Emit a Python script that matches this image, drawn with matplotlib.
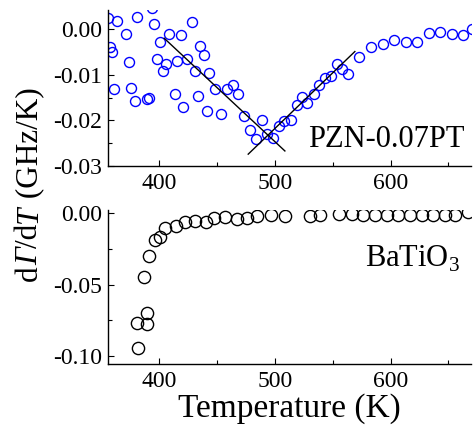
import numpy as np
import matplotlib
matplotlib.use("Agg")
import matplotlib.pyplot as plt
from matplotlib.ticker import MultipleLocator, FormatStrFormatter

# ____________________________________________________________________________________________________
# Data

pzn_T = [355.5, 357.4, 359.4, 360.8, 363.7, 371.0, 373.8, 375.5, 379.0, 380.8,
         389.0, 391.4, 393.4, 395.4, 397.9, 400.6, 403.5, 405.8, 408.5, 413.6,
         415.6, 418.7, 420.5, 423.9, 428.5, 430.6, 433.7, 435.5, 438.6, 441.5,
         443.2, 448.4, 453.6, 458.5, 463.7, 468.3, 473.0, 478.7, 483.5, 488.5,
         493.3, 498.2, 503.6, 508.2, 513.6, 518.8, 523.4, 528.0, 533.4, 538.0,
         543.2, 548.1, 553.3, 558.2, 562.8, 572.9, 583.0, 593.1, 602.9, 613.0,
         623.0, 633.1, 642.6, 652.7, 662.7, 670.5]
pzn_dG = [0.0024, -0.0040, -0.0049, -0.0132, 0.0017, -0.0011, -0.0071, -0.0128, -0.0158, 0.0027,
          -0.0153, -0.0151, 0.0046, 0.0012, -0.0066, -0.0029, -0.0091, -0.0077, -0.0010, -0.0143,
          -0.0070, -0.0013, -0.0170, -0.0066, 0.0015, -0.0091, -0.0147, -0.0037, -0.0057, -0.0180,
          -0.0096, -0.0132, -0.0185, -0.0132, -0.0123, -0.0143, -0.0190, -0.0222, -0.0240, -0.0199,
          -0.0229, -0.0238, -0.0213, -0.0202, -0.0200, -0.0166, -0.0149, -0.0161, -0.0143, -0.0122,
          -0.0107, -0.0102, -0.0077, -0.0087, -0.0099, -0.0062, -0.0038, -0.0032, -0.0023, -0.0029,
          -0.0029, -0.0009, -0.0007, -0.0010, -0.0013, 0.0000]

# linear guides on both sides of the minimum
fit_low_T = [404.3, 508.6]
fit_low_dG = [-0.0020, -0.0267]
fit_high_T = [476.9, 569.1]
fit_high_dG = [-0.0274, -0.0049]

bto_T = [381.0, 381.9, 387.0, 389.1, 389.6, 391.4, 396.3, 401.0, 405.3, 414.3,
         422.0, 430.9, 440.4, 447.7, 456.8, 467.2, 475.8, 484.2, 496.7, 508.4,
         530.2, 538.9, 555.6, 566.3, 576.3, 586.4, 596.5, 606.6, 616.7, 626.8,
         636.8, 646.9, 655.5, 666.7]
bto_dG = [-0.0765, -0.0945, -0.0450, -0.0695, -0.0777, -0.0298, -0.0189, -0.0166, -0.0105, -0.0089,
          -0.0062, -0.0060, -0.0062, -0.0037, -0.0032, -0.0042, -0.0036, -0.0022, -0.0016, -0.0020,
          -0.0023, -0.0016, -0.0006, -0.0011, -0.0015, -0.0015, -0.0015, -0.0015, -0.0015, -0.0015,
          -0.0015, -0.0015, -0.0015, 0.0005]

top_yticks = [0.00, -0.01, -0.02, -0.03]
bottom_yticks = [0.00, -0.05, -0.10]
xticks = [400, 500, 600]

# y label pieces: (text, style) -> Γ and T in italic
ylabel_parts = [('d', 'normal'), ('Γ', 'italic'), ('/d', 'normal'),
                ('T', 'italic'), (' (GHz/K)', 'normal')]

# ____________________________________________________________________________________________________
# Style

plt.rcParams['font.family'] = ['Liberation Serif', 'DejaVu Serif']
plt.rcParams['mathtext.fontset'] = 'custom'
plt.rcParams['mathtext.rm'] = 'Liberation Serif'

fig = plt.figure(figsize=(4.75, 4.25), dpi=100)
ax_top = fig.add_axes([0.2274, 0.6094, 0.7642, 0.367])
ax_bot = fig.add_axes([0.2274, 0.1435, 0.7642, 0.3624])


def style_axis(ax, ylim, yticks, yminor):
    ax.set_xlim(355.7, 669.5)
    ax.set_ylim(*ylim)
    ax.set_xticks(xticks)
    ax.xaxis.set_minor_locator(MultipleLocator(50))
    ax.set_yticks(yticks)
    ax.yaxis.set_minor_locator(MultipleLocator(yminor))
    ax.yaxis.set_major_formatter(FormatStrFormatter('%.2f'))
    for side in ['top', 'right']:
        ax.spines[side].set_visible(False)
    for side in ['left', 'bottom']:
        ax.spines[side].set_linewidth(1.0)
    ax.tick_params(which='both', direction='in', labelsize=17, pad=4, width=0.8)
    ax.tick_params(axis='x', pad=5)
    ax.tick_params(which='major', length=4)
    ax.tick_params(which='minor', length=3)


# Top panel ğŸ”µ
ax_top.plot(pzn_T, pzn_dG, 'o', ms=7.2, mfc='none', mec='#0000ff', mew=1.0)
ax_top.plot(fit_low_T, fit_low_dG, color='black', lw=1.0)
ax_top.plot(fit_high_T, fit_high_dG, color='black', lw=1.0)
style_axis(ax_top, (-0.03, 0.0042), top_yticks, 0.005)
ax_top.text(0.551, 0.122, 'PZN-0.07PT', transform=ax_top.transAxes,
            fontsize=22, ha='left', va='baseline')

# Bottom panel âš«
ax_bot.plot(bto_T, bto_dG, 'o', ms=8.8, mfc='none', mec='black', mew=1.0)
style_axis(ax_bot, (-0.1053, 0.0019), bottom_yticks, 0.025)
ax_bot.text(0.708, 0.628, 'BaTiO$_3$', transform=ax_bot.transAxes,
            fontsize=22, ha='left', va='baseline')

# Y label, built piece by piece so Γ can be italic (mathtext keeps it upright)
renderer = fig.canvas.get_renderer()
fig_w, fig_h = fig.bbox.width, fig.bbox.height
base_x = 37.0        # baseline, px from left
center_y = 425 - 184.0  # px from bottom
texts = []
for s, st in ylabel_parts:
    t = fig.text(0, 0, s, rotation=90, rotation_mode='anchor', fontsize=22.5,
                 style=st, ha='left', va='baseline')
    texts.append(t)
lengths = [t.get_window_extent(renderer).height for t in texts]
y = center_y - sum(lengths) / 2
for t, L in zip(texts, lengths):
    t.set_position((base_x / fig_w, y / fig_h))
    y += L

fig.text(0.6095, 0.019, 'Temperature (K)', fontsize=24, ha='center', va='baseline')

fig.savefig('out.png', dpi=100)
